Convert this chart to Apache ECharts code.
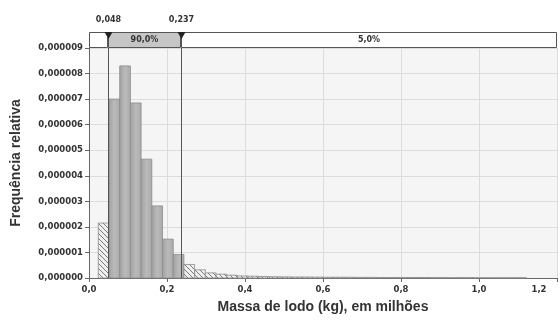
<!DOCTYPE html>
<html><head><meta charset="utf-8">
<script src="https://cdn.jsdelivr.net/npm/echarts@6/dist/echarts.min.js"></script>
<style>html,body{margin:0;padding:0;background:#fff}#c{width:560px;height:322px}</style>
</head><body><div id="c"></div>
<script>
// Histogram bins (x in millions of kg), frequencies in units of 1e-6
const binStart = 0.0238;
const binWidth = 0.02745;
const freq = [2.15, 7.0, 8.3, 6.85, 4.65, 2.82, 1.52, 0.92,
  0.53, 0.32, 0.2, 0.15, 0.11, 0.08, 0.07, 0.06, 0.05, 0.045, 0.04, 0.04,
  0.035, 0.03, 0.03, 0.03, 0.025, 0.025, 0.02, 0.02, 0.02, 0.02, 0.02,
  0.015, 0.015, 0.015, 0.015, 0.01, 0.01, 0.01, 0.01, 0.01];
const delimiters = [0.048, 0.237];
const delimLabels = ['0,048', '0,237'];
const bandStarts = [0, 0.048, 0.237];
const bandEnds = [0.048, 0.237, 1.2];
const bandLabels = ['', '90,0%', '5,0%'];
const xName = 'Massa de lodo (kg), em milhões';
const yName = 'Frequência relativa';

const FONT = 'DejaVu Sans';
const LABEL_COLOR = '#333';

// hatch pattern
const pc = document.createElement('canvas');
pc.width = 5; pc.height = 5;
const g = pc.getContext('2d');
g.fillStyle = '#efefef'; g.fillRect(0, 0, 5, 5);
g.strokeStyle = '#7a7a7a'; g.lineWidth = 1;
g.beginPath(); g.moveTo(0, 0); g.lineTo(5, 5); g.moveTo(-5, 0); g.lineTo(0, 5); g.moveTo(5, 0); g.lineTo(10, 5); g.stroke();
const hatch = { image: pc, repeat: 'repeat' };

const histData = freq.map((v, i) => {
  const s = binStart + i * binWidth, e = s + binWidth, c = (s + e) / 2;
  const inside = c > delimiters[0] && c < delimiters[1] ? 1 : 0;
  return [s, e, v, inside];
});
const bandData = bandStarts.map((s, i) => [s, bandEnds[i], bandLabels[i], i === 1 ? 1 : 0]);
const delimData = delimiters.map((d, i) => [d, delimLabels[i]]);

const chart = echarts.init(document.getElementById('c'), null, { renderer: 'canvas' });
chart.setOption({
  animation: false,
  backgroundColor: '#fff',
  grid: [
    { left: 89, right: 3, top: 48, bottom: 44, show: true, backgroundColor: '#f5f5f5', borderWidth: 0 },
    { left: 89, right: 3, top: 32, height: 16, show: false }
  ],
  xAxis: [
    {
      type: 'value', gridIndex: 0, min: 0, max: 1.2, interval: 0.2,
      name: xName, nameLocation: 'middle', nameGap: 22,
      nameTextStyle: { fontFamily: 'Liberation Sans', fontWeight: 'bold', fontSize: 14, color: LABEL_COLOR },
      axisLine: { show: true, lineStyle: { color: '#666', width: 1 } },
      axisTick: { show: true, length: 4, lineStyle: { color: '#666' } },
      splitLine: { show: true, lineStyle: { color: '#dcdcdc', width: 1 } },
      axisLabel: {
        fontFamily: FONT, fontSize: 8.5, fontWeight: 'bold', color: LABEL_COLOR, margin: 7,
        formatter: v => (Math.abs(v - 1.2) < 1e-9 ? '{last|' + v.toFixed(1).replace('.', ',') + '}' : v.toFixed(1).replace('.', ',')),
        rich: { last: { fontFamily: FONT, fontSize: 8.5, fontWeight: 'bold', color: LABEL_COLOR, padding: [0, 36, 0, 0] } }
      }
    },
    { type: 'value', gridIndex: 1, min: 0, max: 1.2, show: false }
  ],
  yAxis: [
    {
      type: 'value', gridIndex: 0, min: 0, max: 9, interval: 1,
      name: yName, nameLocation: 'middle', nameGap: 66, nameRotate: 90,
      nameTextStyle: { fontFamily: 'Liberation Sans', fontWeight: 'bold', fontSize: 14, color: LABEL_COLOR },
      axisLine: { show: true, lineStyle: { color: '#666', width: 1 } },
      axisTick: { show: true, length: 4, lineStyle: { color: '#666' } },
      splitLine: { show: true, lineStyle: { color: '#dcdcdc', width: 1 } },
      axisLabel: {
        fontFamily: FONT, fontSize: 8.5, fontWeight: 'bold', color: LABEL_COLOR, margin: 6,
        formatter: v => (v * 1e-6).toFixed(6).replace('.', ',')
      }
    },
    { type: 'value', gridIndex: 1, min: 0, max: 1, show: false }
  ],
  series: [
    {
      type: 'custom', xAxisIndex: 0, yAxisIndex: 0, data: histData,
      encode: { x: [0, 1], y: 2 },
      renderItem: (params, api) => {
        const s = api.value(0), e = api.value(1), v = api.value(2), inside = api.value(3);
        const p0 = api.coord([s, v]), p1 = api.coord([e, 0]);
        return {
          type: 'rect',
          shape: { x: p0[0], y: p0[1], width: p1[0] - p0[0], height: p1[1] - p0[1] },
          style: {
            fill: inside ? new echarts.graphic.LinearGradient(0, 0, 1, 0, [
              { offset: 0, color: '#a0a0a0' }, { offset: 0.5, color: '#bababa' }, { offset: 1, color: '#aaaaaa' }
            ]) : hatch,
            stroke: '#8c8c8c', lineWidth: 0.8
          }
        };
      }
    },
    {
      type: 'custom', xAxisIndex: 0, yAxisIndex: 0, data: delimData, clip: false,
      encode: { x: 0 },
      renderItem: (params, api) => {
        const d = api.value(0);
        const a = api.coord([d, 0]), b = api.coord([d, 9]);
        return { type: 'line', shape: { x1: Math.round(a[0]) + 0.5, y1: a[1], x2: Math.round(a[0]) + 0.5, y2: b[1] }, style: { stroke: '#555', lineWidth: 1 }, z2: 10 };
      }
    },
    {
      type: 'custom', xAxisIndex: 1, yAxisIndex: 1, data: bandData, clip: false,
      encode: { x: [0, 1] },
      renderItem: (params, api) => {
        const s = api.value(0), e = api.value(1), lab = bandData[params.dataIndex][2], shaded = api.value(3);
        const p0 = api.coord([s, 1]), p1 = api.coord([e, 0]);
        const x0 = Math.round(p0[0]) + 0.5, x1 = Math.round(p1[0]) - 0.5;
        return {
          type: 'group',
          children: [
            { type: 'rect', shape: { x: x0, y: p0[1] + 0.5, width: x1 - x0, height: p1[1] - p0[1] - 1 },
              style: { fill: shaded ? '#c6c6c6' : '#ffffff', stroke: '#555', lineWidth: 1 } },
            { type: 'text', style: { text: lab, x: (x0 + x1) / 2, y: (p0[1] + p1[1]) / 2, align: 'center', verticalAlign: 'middle',
              font: 'bold 8px "' + FONT + '"', fill: '#333' } }
          ]
        };
      }
    },
    {
      type: 'custom', xAxisIndex: 1, yAxisIndex: 1, data: delimData, clip: false,
      encode: { x: 0 },
      renderItem: (params, api) => {
        const d = api.value(0), lab = delimData[params.dataIndex][1];
        const p = api.coord([d, 1]);
        const x = Math.round(p[0]) + 0.5;
        return {
          type: 'group', z2: 20,
          children: [
            { type: 'polygon', shape: { points: [[x - 4, p[1]], [x + 4, p[1]], [x, p[1] + 7]] }, style: { fill: '#222' } },
            { type: 'text', style: { text: lab, x: x, y: p[1] - 12, align: 'center', verticalAlign: 'middle',
              font: 'bold 8px "' + FONT + '"', fill: '#333' } }
          ]
        };
      }
    }
  ]
});
</script>
</body></html>
